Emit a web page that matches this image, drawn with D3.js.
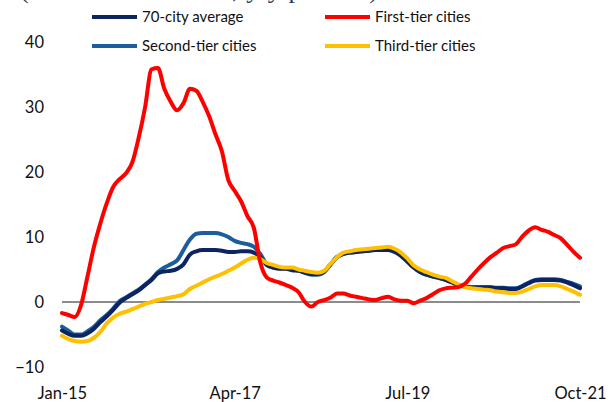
<!DOCTYPE html>
<html>
<head>
<meta charset="utf-8">
<script src="https://cdn.jsdelivr.net/npm/d3@7"></script>
<style>
  html, body { margin: 0; padding: 0; background: #fff; }
  svg { display: block; }
  .tick text { font-family: Lato, "Open Sans", sans-serif; font-size: 16.5px; fill: #111; }
</style>
</head>
<body>
<svg id="chart" width="610" height="402"></svg>
<script>
// Monthly categories, Jan-2015 .. Oct-2021
const monthNames = ["Jan","Feb","Mar","Apr","May","Jun","Jul","Aug","Sep","Oct","Nov","Dec"];
const months = [];
for (let y = 15; y <= 21; y++) {
  for (let m = 0; m < 12; m++) {
    if (y === 21 && m > 9) break;
    months.push(monthNames[m] + "-" + y);
  }
}
const tickLabels = ["Jan-15", "Apr-17", "Jul-19", "Oct-21"];
const yTicks = [-10, 0, 10, 20, 30, 40];

// Year-on-year change in home prices (percent)
const avg70 = [
  -4.4,-4.9,-5.2,-5.2,-4.8,-4.1,-3.1,-2.2,-1.2,-0.1,0.6,1.2,
  1.8,2.6,3.4,4.4,4.7,4.8,5.1,5.8,7.3,7.8,8.0,8.0,
  8.0,7.9,7.7,7.7,7.8,7.8,7.6,6.9,5.7,5.3,5.1,5.1,
  4.9,4.8,4.5,4.3,4.3,4.7,5.8,6.9,7.4,7.6,7.7,7.8,
  7.9,8.0,8.0,8.0,7.7,7.1,6.2,5.3,4.6,4.2,3.9,3.7,
  3.4,3.0,2.6,2.4,2.2,2.2,2.2,2.2,2.1,2.1,2.0,2.0,
  2.4,2.9,3.3,3.4,3.4,3.4,3.3,3.0,2.6,2.1
];
const firstTier = [
  -1.7,-2.0,-2.3,-0.4,4.0,8.5,12.1,15.2,17.7,18.9,19.8,21.5,
  25.3,30.0,35.8,36.0,32.8,30.8,29.5,30.6,32.8,32.5,30.8,28.6,
  25.8,23.2,18.8,17.1,15.5,13.2,11.4,6.1,3.8,3.3,3.0,2.6,
  2.2,1.5,0.0,-0.7,0.0,0.3,0.7,1.3,1.3,1.0,0.8,0.6,
  0.4,0.3,0.6,0.8,0.4,0.2,0.2,-0.2,0.2,0.6,1.2,1.8,
  2.1,2.2,2.3,2.8,3.9,5.0,6.0,6.9,7.6,8.3,8.6,8.9,
  10.1,11.0,11.5,11.1,10.8,10.3,9.8,8.8,7.7,6.8
];
const secondTier = [
  -3.8,-4.4,-5.0,-5.0,-4.5,-3.8,-2.8,-2.0,-1.0,0.1,0.7,1.3,
  1.9,2.7,3.5,4.6,5.3,5.8,6.4,8.0,9.6,10.5,10.6,10.6,
  10.6,10.4,10.0,9.4,9.1,8.9,8.5,7.4,5.8,5.3,5.2,5.2,
  5.0,4.9,4.5,4.2,4.2,4.6,5.8,6.9,7.4,7.6,7.7,7.8,
  7.9,8.0,8.1,8.2,7.9,7.2,6.3,5.3,4.6,4.2,3.9,3.7,
  3.4,3.0,2.6,2.4,2.3,2.3,2.3,2.3,2.2,2.2,2.1,2.1,
  2.5,3.0,3.4,3.5,3.5,3.5,3.4,3.1,2.8,2.4
];
const thirdTier = [
  -5.2,-5.7,-6.0,-6.1,-6.0,-5.5,-4.6,-3.3,-2.4,-1.8,-1.5,-1.1,
  -0.7,-0.3,0.0,0.3,0.5,0.7,0.9,1.2,2.0,2.5,3.0,3.5,
  3.9,4.3,4.8,5.3,5.9,6.5,6.8,6.6,6.0,5.7,5.4,5.3,
  5.3,5.0,4.8,4.6,4.5,4.8,5.9,6.9,7.6,7.8,8.0,8.1,
  8.2,8.3,8.4,8.5,8.2,7.6,6.7,5.6,5.0,4.6,4.2,3.9,
  3.7,3.2,2.7,2.3,2.1,2.0,1.9,1.8,1.6,1.5,1.4,1.4,
  1.6,2.0,2.4,2.6,2.6,2.6,2.4,2.0,1.6,1.1
];

// Series in drawing order (bottom to top)
const series = [
  { name: "Second-tier cities", values: secondTier, color: "#1B5E9B" },
  { name: "70-city average",    values: avg70,      color: "#0C2461" },
  { name: "Third-tier cities",  values: thirdTier,  color: "#FFC000" },
  { name: "First-tier cities",  values: firstTier,  color: "#FF0000" }
];

const svg = d3.select("#chart");

// Heading sitting above the frame
svg.append("text")
  .attr("x", 20).attr("y", -2)
  .attr("textLength", 358).attr("lengthAdjust", "spacing")
  .style("font-family", "'Liberation Serif', 'DejaVu Serif', serif")
  .style("font-size", "26px")
  .style("fill", "#1F3864")
  .text("(House Price Index, y/y percent)");

const x = d3.scalePoint().domain(months).range([62, 580]);
const y = d3.scaleLinear().domain([-10, 40]).range([367, 42]);

// Y axis labels
const yAxis = svg.append("g")
  .attr("transform", "translate(62,0)")
  .call(d3.axisLeft(y).tickValues(yTicks).tickSize(0).tickPadding(18).tickFormat(d3.format("d")));
yAxis.select(".domain").remove();

// X axis labels
const xAxis = svg.append("g")
  .attr("transform", "translate(0,385)")
  .call(d3.axisBottom(x).tickValues(tickLabels).tickSize(0).tickPadding(2));
xAxis.select(".domain").remove();

// Zero line
svg.append("line")
  .attr("x1", x(months[0])).attr("x2", x(months[months.length - 1]))
  .attr("y1", y(0)).attr("y2", y(0))
  .attr("stroke", "#1a1a1a").attr("stroke-width", 1.2);

const line = d3.line()
  .x((d, i) => x(months[i]))
  .y(d => y(d))
  .curve(d3.curveMonotoneX);

svg.append("g").selectAll("path")
  .data(series)
  .join("path")
  .attr("d", d => line(d.values))
  .attr("fill", "none")
  .attr("stroke", d => d.color)
  .attr("stroke-width", 4)
  .attr("stroke-linejoin", "round")
  .attr("stroke-linecap", "round");

// Legend, two columns by two rows
const legendItems = [
  { name: "70-city average",    color: "#0C2461", lx: 92,  ly: 17 },
  { name: "First-tier cities",  color: "#FF0000", lx: 325, ly: 17 },
  { name: "Second-tier cities", color: "#1B5E9B", lx: 92,  ly: 46 },
  { name: "Third-tier cities",  color: "#FFC000", lx: 325, ly: 46 }
];
const lg = svg.append("g").selectAll("g").data(legendItems).join("g")
  .attr("transform", d => `translate(${d.lx},${d.ly})`);
lg.append("line")
  .attr("x1", 0).attr("x2", 45).attr("y1", 0).attr("y2", 0)
  .attr("stroke", d => d.color).attr("stroke-width", 4);
lg.append("text")
  .attr("x", 50).attr("y", 0).attr("dy", "0.35em")
  .style("font-family", "Lato, 'Open Sans', sans-serif")
  .style("font-size", "15px")
  .style("fill", "#111")
  .text(d => d.name);
</script>
</body>
</html>
